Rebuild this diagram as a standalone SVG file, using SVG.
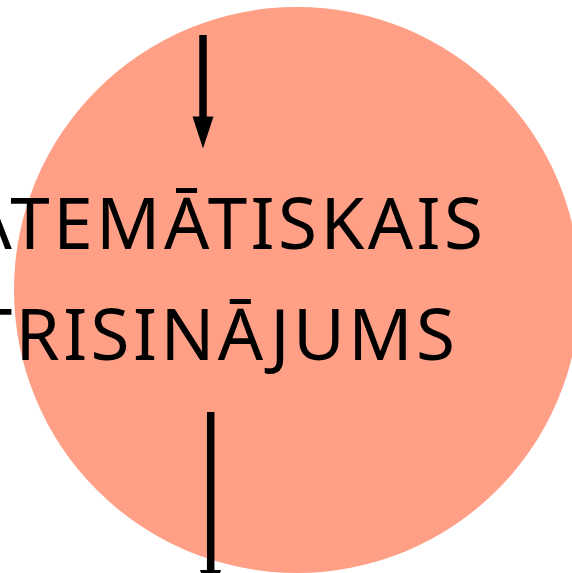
<svg xmlns="http://www.w3.org/2000/svg" width="572" height="573" viewBox="0 0 572 573">
<style>
.lbl{font-family:"Noto Sans","Open Sans","DejaVu Sans",sans-serif;font-size:71px;fill:#000;text-anchor:end;letter-spacing:3.4px}
.conn{stroke:#000;stroke-width:7.5;fill:none}
</style>
<rect width="572" height="573" fill="#fff"/>
<g id="node-main">
<circle cx="297" cy="290" r="283" fill="#FF9F86"/>
<text class="lbl" x="486.4" y="249">ATEMĀTISKAIS</text>
<text class="lbl" x="458.4" y="360">TRISINĀJUMS</text>
</g>
<g id="connectors">
<line class="conn" x1="203" y1="35" x2="203" y2="118"/>
<path d="M192.5,116.5 L213.5,116.5 L203,148.5 Z" fill="#000"/>
<line class="conn" x1="210.7" y1="412" x2="210.7" y2="571"/>
<path d="M200,570 L221,570 L210.5,602 Z" fill="#000"/>
</g>
</svg>
